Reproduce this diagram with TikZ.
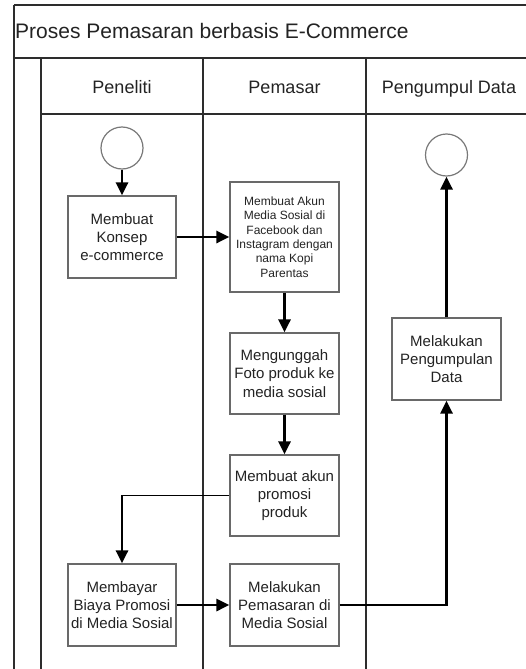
\documentclass[tikz,border=0pt]{standalone}
\usepackage{fontspec}
\setmainfont{Liberation Sans}
\usetikzlibrary{arrows.meta}
\definecolor{lanegray}{RGB}{45, 45, 45}
\definecolor{boxgray}{RGB}{105, 105, 105}
\definecolor{circlegray}{RGB}{120, 120, 120}
\definecolor{textgray}{RGB}{35, 35, 35}

\begin{document}
\begin{tikzpicture}[x=1pt, y=-1pt, >={Triangle[length=13pt,width=12pt]},
    lane/.style={draw=lanegray, line width=1.3pt},
    task/.style={draw=boxgray, line width=1.2pt, fill=white, align=center, inner sep=1pt,
        text=textgray, font=\fontsize{15}{18.3}\selectfont},
    smalltask/.style={task, font=\fontsize{12}{14.3}\selectfont},
    event/.style={circle, draw=circlegray, line width=1.2pt, minimum size=42pt, inner sep=0pt},
    flow/.style={->, line width=2.8pt, black},
    lanehead/.style={anchor=base, text=textgray, font=\fontsize{18}{20}\selectfont}]
        \useasboundingbox (0,0) rectangle (526,669);
        % pool and lanes
        \draw[lane] (14,5) -- (526,5);
        \draw[lane] (14,5) -- (14,669);
        \draw[lane] (14,58) -- (526,58);
        \draw[lane] (41,114) -- (526,114);
        \draw[lane] (41,58) -- (41,669);
        \draw[lane] (203,58) -- (203,669);
        \draw[lane] (366,58) -- (366,669);

        \node[anchor=base west, inner sep=0pt, text=textgray, font=\fontsize{21}{24}\selectfont] (title) at (15,39)
        {Proses Pemasaran berbasis E-Commerce};
        \node[lanehead] (peneliti) at (122,93) {Peneliti};
        \node[lanehead] (pemasar) at (284.5,93) {Pemasar};
        \node[lanehead] (pengumpul) at (449,93) {Pengumpul Data};

        \node[event] (start) at (122,148) {};
        \node[task, minimum width=108pt, minimum height=82pt] (konsep) at (122,237)
        {Membuat\\Konsep\\e-commerce};
        \node[smalltask, minimum width=109pt, minimum height=110pt] (akun) at (284.5,237)
        {Membuat Akun\\Media Sosial di\\Facebook dan\\Instagram dengan\\nama Kopi\\Parentas};
        \node[task, minimum width=109pt, minimum height=81pt] (unggah) at (284.5,373.5)
        {Mengunggah\\Foto produk ke\\media sosial};
        \node[task, minimum width=109pt, minimum height=81pt] (promosi) at (284.5,495.5)
        {Membuat akun\\promosi\\produk};
        \node[task, minimum width=108pt, minimum height=82pt] (bayar) at (122,605)
        {Membayar\\Biaya Promosi\\di Media Sosial};
        \node[task, minimum width=109pt, minimum height=82pt] (pasar) at (284.5,605)
        {Melakukan\\Pemasaran di\\Media Sosial};
        \node[task, minimum width=109pt, minimum height=82pt] (kumpul) at (446.5,359)
        {Melakukan\\Pengumpulan\\Data};
        \node[event] (stop) at (446.5,155) {};
        \coordinate (turn) at (promosi.west -| bayar.north);

        \draw[flow] (start) -- (konsep);
        \draw[flow] (konsep) -- (akun);
        \draw[flow] (akun) -- (unggah);
        \draw[flow] (unggah) -- (promosi);
        \draw[line width=1.8pt, black] (promosi.west) -- ([xshift=-1.4pt]turn);
        \draw[flow] ([yshift=-0.9pt]turn) -- (bayar.north);
        \draw[flow] (bayar) -- (pasar);
        \draw[flow] (pasar.east) -| (kumpul.south);
        \draw[flow] (kumpul) -- (stop);
\end{tikzpicture}
\end{document}
